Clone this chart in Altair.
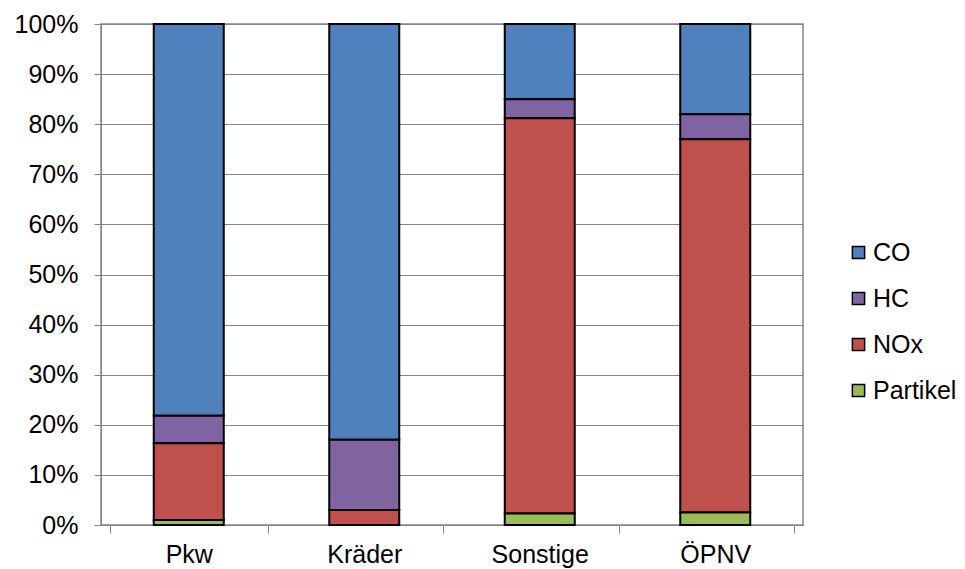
import altair as alt
import pandas as pd

categories = ["Pkw", "Kräder", "Sonstige", "ÖPNV"]
pollutants = ["CO", "HC", "NOx", "Partikel"]
co = [78.2, 83.0, 15.0, 18.0]
hc = [5.5, 14.0, 3.8, 5.0]
nox = [15.3, 3.0, 78.9, 74.5]
partikel = [1.0, 0.0, 2.3, 2.5]
colors = ["#4F81BD", "#8064A2", "#C0504D", "#9BBB59"]

rows = []
series = {"CO": co, "HC": hc, "NOx": nox, "Partikel": partikel}
stack_rank = {"Partikel": 0, "NOx": 1, "HC": 2, "CO": 3}
for p in pollutants:
    for c, v in zip(categories, series[p]):
        rows.append({"Kategorie": c, "Schadstoff": p, "Wert": v, "rank": stack_rank[p]})
df = pd.DataFrame(rows)

font = "Liberation Sans"
fs = 25

chart = alt.Chart(df).mark_bar(size=70, stroke="black", strokeWidth=2).encode(
    x=alt.X("Kategorie:N", sort=categories, title=None,
            axis=alt.Axis(labelAngle=0, tickBand="extent", tickSize=8, labelPadding=9,
                          labelFontSize=fs, labelFont=font, labelColor="black",
                          domainColor="#868686", tickColor="#868686", grid=False)),
    y=alt.Y("Wert:Q", stack="normalize", title=None,
            scale=alt.Scale(domain=[0, 1]),
            axis=alt.Axis(format=".0%", values=[i / 10 for i in range(11)], tickSize=7,
                          labelPadding=16, labelFontSize=fs, labelFont=font, labelColor="black",
                          domainColor="#868686", tickColor="#868686",
                          gridColor="#868686", gridWidth=1)),
    color=alt.Color("Schadstoff:N", sort=pollutants,
                    scale=alt.Scale(domain=pollutants, range=colors),
                    legend=alt.Legend(title=None, orient="none", legendX=745, legendY=216,
                                      symbolType="square", symbolSize=150, symbolStrokeColor="black",
                                      symbolStrokeWidth=1.5, labelFontSize=fs, labelFont=font,
                                      labelColor="black", rowPadding=20, labelOffset=2,
                                      labelLimit=200)),
    order=alt.Order("rank:Q", sort="ascending"),
).properties(
    width=702, height=501,
    autosize=alt.AutoSizeParams(type="none"),
    padding={"left": 93, "top": 16, "right": 154, "bottom": 48},
).configure_view(stroke="#868686", strokeWidth=1.5)

chart.save("out.html", embed_options={"renderer": "svg", "actions": False})
